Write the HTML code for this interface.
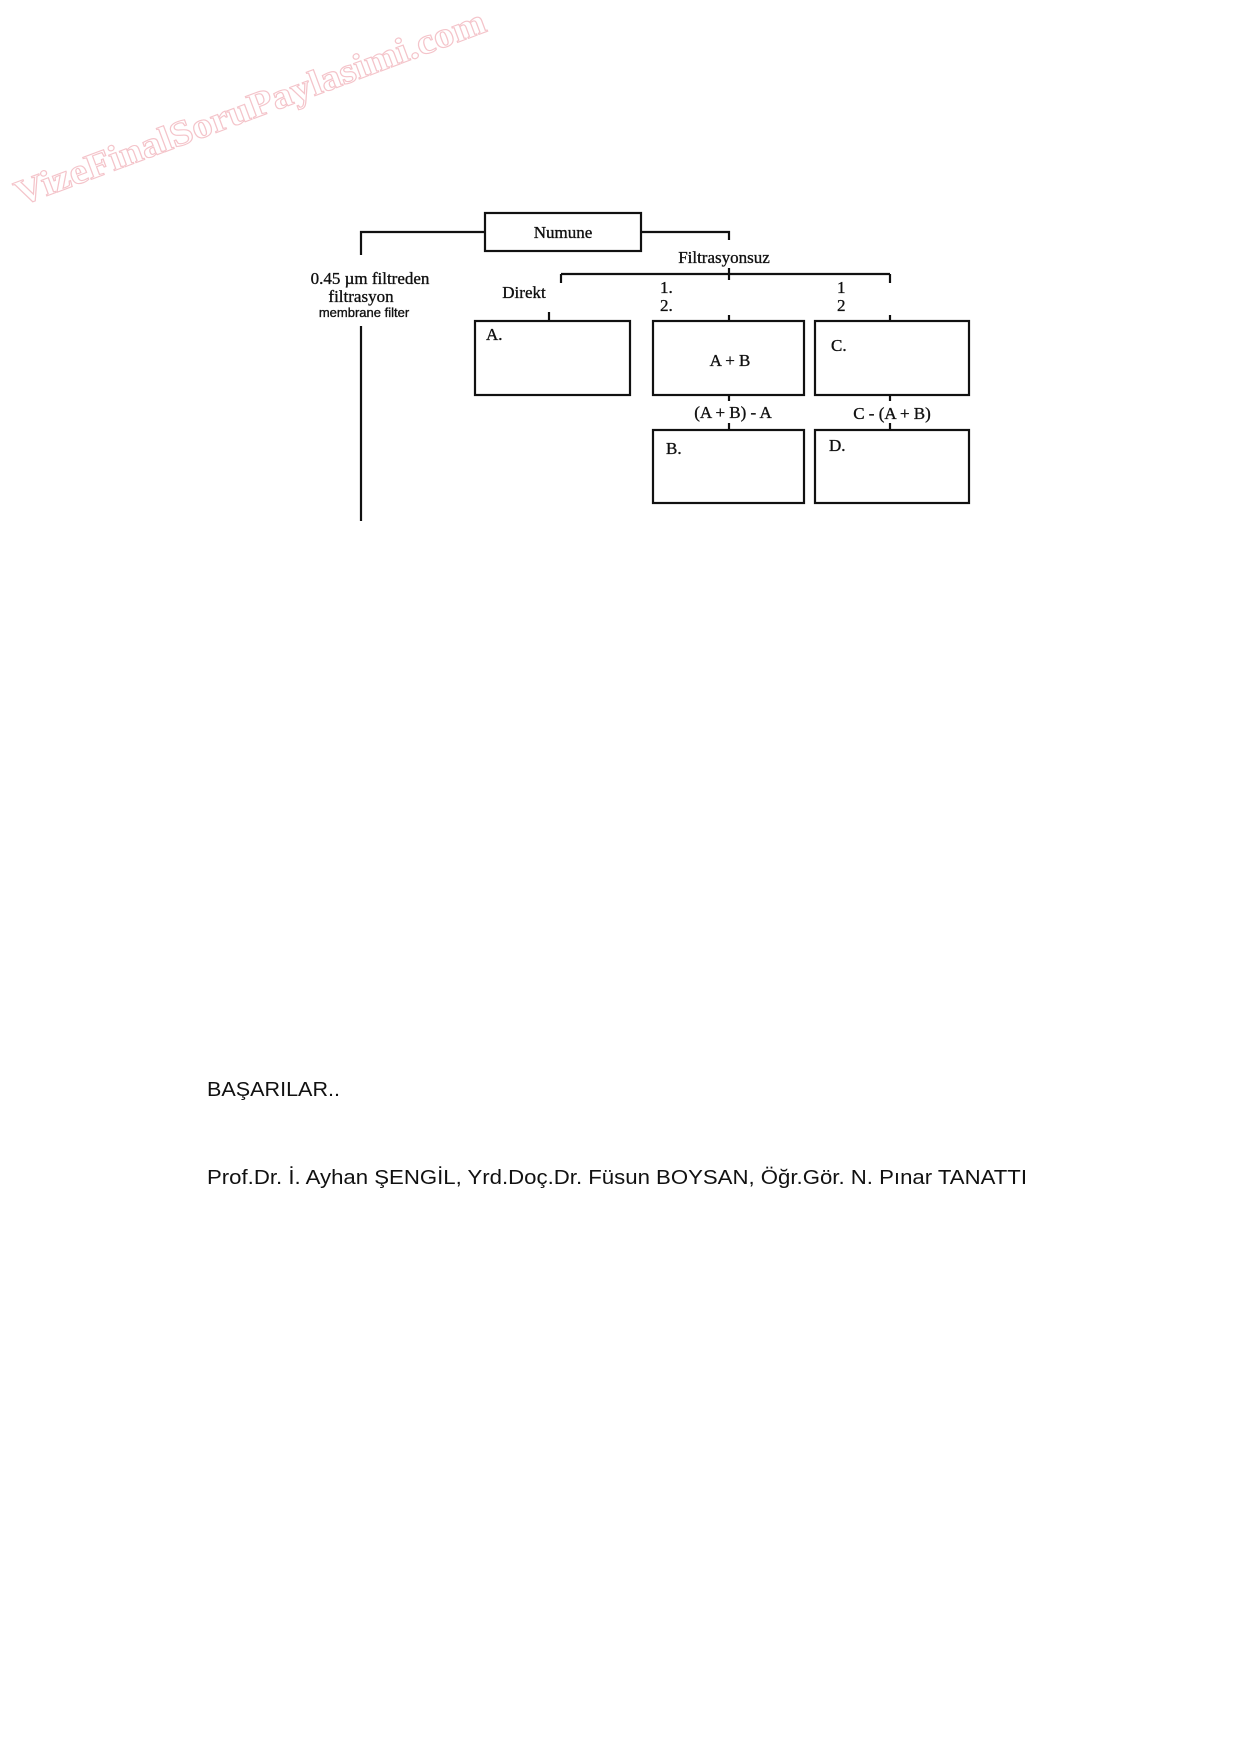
<!DOCTYPE html>
<html><head><meta charset="utf-8"><style>
html,body{margin:0;padding:0;background:#fff;}
svg{display:block}
</style></head><body>
<svg width="1240" height="1755" viewBox="0 0 1240 1755" xmlns="http://www.w3.org/2000/svg">
<rect width="1240" height="1755" fill="#fff"/>
<g transform="translate(20,206) rotate(-20.5)">
<text x="0" y="0" font-family="Liberation Serif, serif" font-weight="bold" font-size="36" fill="none" stroke="#f4c4ca" stroke-width="1.1" textLength="500" lengthAdjust="spacingAndGlyphs">VizeFinalSoruPaylasimi.com</text>
</g>
<g stroke="#111" stroke-width="2.2" fill="none">
<rect x="485" y="213" width="156" height="38"/>
<polyline points="485,232 361,232 361,255"/>
<line x1="361" y1="326" x2="361" y2="521"/>
<polyline points="641,232 729,232 729,240"/>
<line x1="561" y1="274" x2="890" y2="274"/>
<line x1="561" y1="274" x2="561" y2="283"/>
<line x1="729" y1="268" x2="729" y2="280"/>
<line x1="890" y1="274" x2="890" y2="283"/>
<line x1="549" y1="312" x2="549" y2="321"/>
<line x1="729" y1="315" x2="729" y2="321"/>
<line x1="890" y1="315" x2="890" y2="321"/>
<rect x="475" y="321" width="155" height="74"/>
<rect x="653" y="321" width="151" height="74"/>
<rect x="815" y="321" width="154" height="74"/>
<rect x="653" y="430" width="151" height="73"/>
<rect x="815" y="430" width="154" height="73"/>
<line x1="729" y1="395" x2="729" y2="401"/>
<line x1="890" y1="395" x2="890" y2="401"/>
<line x1="729" y1="423" x2="729" y2="430"/>
<line x1="890" y1="423" x2="890" y2="430"/>
</g>
<g font-family="Liberation Serif, serif" font-size="17" fill="#111" stroke="#111" stroke-width="0.35">
<text x="563" y="238" text-anchor="middle">Numune</text>
<text x="724" y="263" text-anchor="middle">Filtrasyonsuz</text>
<text x="370" y="284" text-anchor="middle">0.45 µm filtreden</text>
<text x="361" y="302" text-anchor="middle">filtrasyon</text>
<text x="364" y="317" text-anchor="middle" font-family="Liberation Sans, sans-serif" font-size="13">membrane filter</text>
<text x="524" y="298" text-anchor="middle">Direkt</text>
<text x="660" y="293">1.</text>
<text x="660" y="311">2.</text>
<text x="837" y="293">1</text>
<text x="837" y="311">2</text>
<text x="486" y="340">A.</text>
<text x="730" y="366" text-anchor="middle">A + B</text>
<text x="831" y="351">C.</text>
<text x="733" y="418" text-anchor="middle">(A + B) - A</text>
<text x="892" y="419" text-anchor="middle">C - (A + B)</text>
<text x="666" y="454">B.</text>
<text x="829" y="451">D.</text>
</g>
<g font-family="Liberation Sans, sans-serif" font-size="20" fill="#111">
<text x="207" y="1096" textLength="133" lengthAdjust="spacingAndGlyphs">BAŞARILAR..</text>
<text x="207" y="1184" textLength="820" lengthAdjust="spacingAndGlyphs">Prof.Dr. İ. Ayhan ŞENGİL, Yrd.Doç.Dr. Füsun BOYSAN, Öğr.Gör. N. Pınar TANATTI</text>
</g>
</svg>
</body></html>
